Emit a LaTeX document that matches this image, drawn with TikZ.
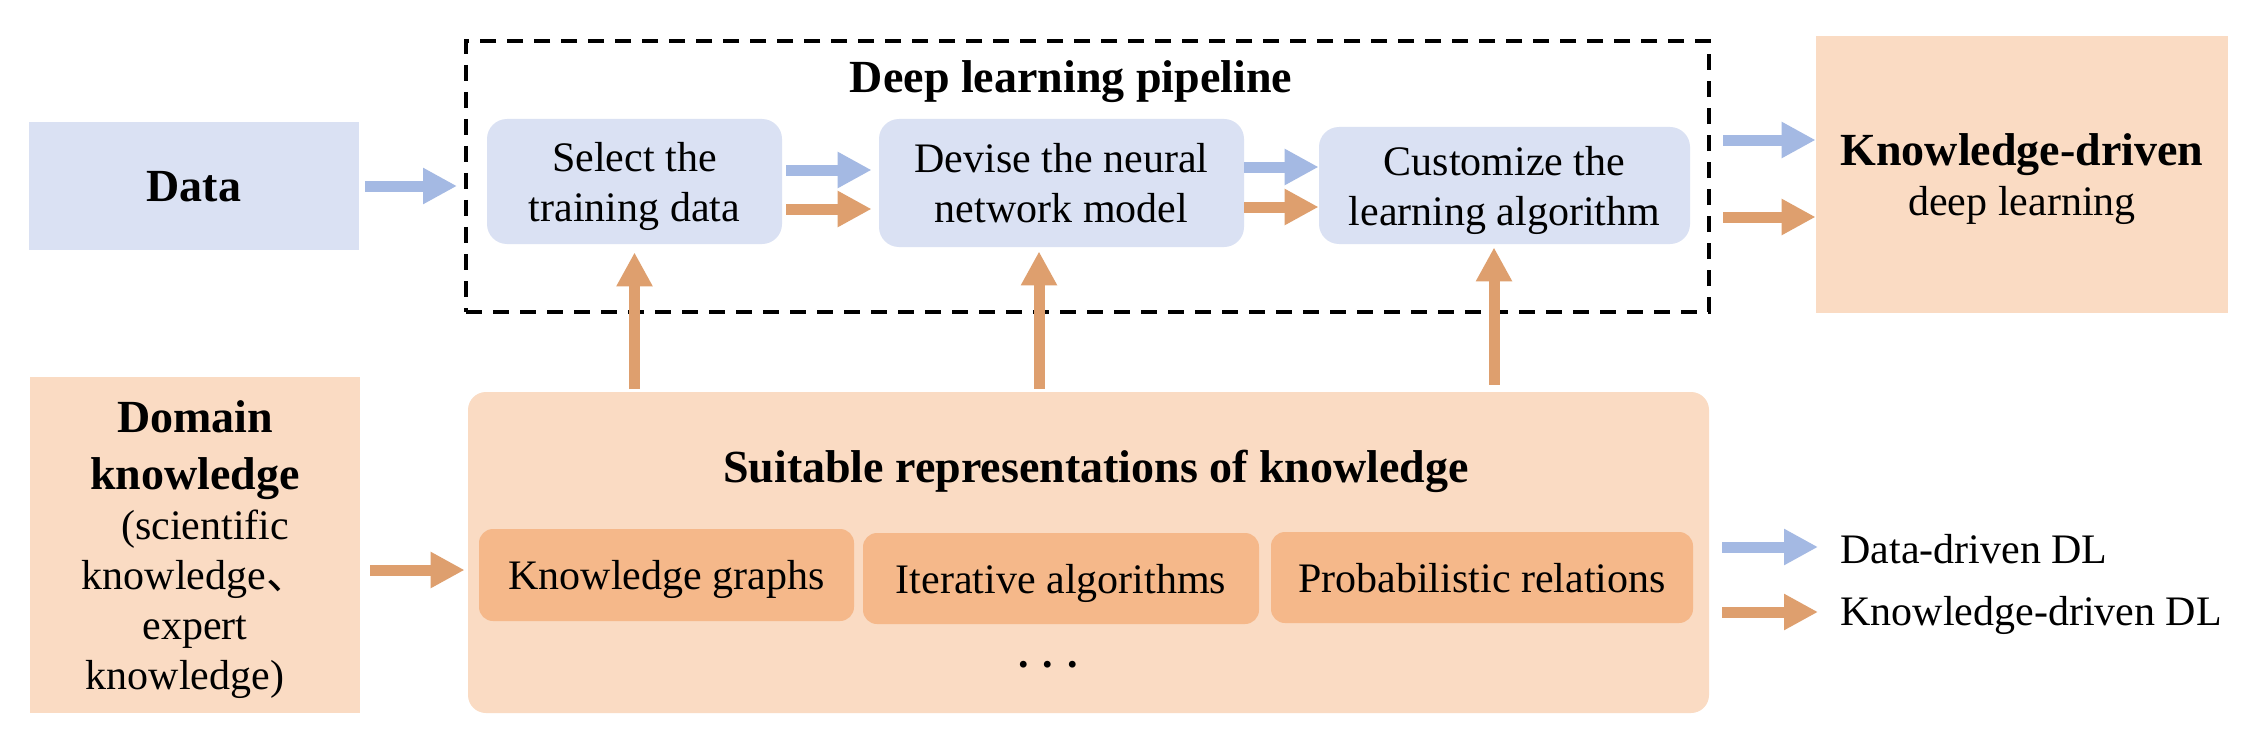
\documentclass[tikz,border=0pt]{standalone}
\usepackage{fontspec}
\setmainfont{Liberation Serif}
\newfontfamily\cjk{Noto Sans CJK SC}
\usetikzlibrary{arrows.meta,calc}
\definecolor{blueBox}{HTML}{DAE1F3}
\definecolor{blueArr}{HTML}{A4B9E3}
\definecolor{orgArr}{HTML}{DE9F6E}
\definecolor{peach}{HTML}{FADBC3}
\definecolor{innerOrg}{HTML}{F5B88A}
\tikzset{
  reg/.style={font=\fontsize{21}{25}\selectfont},
  bld/.style={font=\bfseries\fontsize{23}{25}\selectfont},
  boxbase/.style={inner sep=0pt, align=center, text depth=0pt, reg},
  bbox/.style={boxbase, fill=blueBox},
  rbbox/.style={boxbase, fill=blueBox, rounded corners=10pt},
  pbox/.style={boxbase, fill=peach},
  ibox/.style={boxbase, fill=innerOrg, rounded corners=7pt},
  barrow/.style={draw=blueArr, line width=5.5pt, -{Triangle[length=17pt,width=17pt]}},
  oarrow/.style={draw=orgArr, line width=5.5pt, -{Triangle[length=17pt,width=17pt]}},
  pipebox/.style={draw=black, line width=2pt, dash pattern=on 8pt off 5.5pt, inner sep=0pt},
}
\begin{document}
\begin{tikzpicture}[x=0.5pt,y=-0.5pt]
\useasboundingbox[fill=white] (0,0) rectangle (2263,738);

% top row
\node[bbox, minimum width=165pt, minimum height=64pt, bld] (data) at (194,186) {Data};
\node[pipebox, minimum width=621.5pt, minimum height=135.5pt] (pipe) at (1087.5,176.5) {};
\node[bld, anchor=base, inner sep=0pt] (ptitle) at (1071,93) {Deep learning pipeline};
\node[rbbox, minimum width=147.5pt, minimum height=62.5pt] (sel) at (634.5,181.5) {Select the\\training data};
\node[rbbox, minimum width=182.5pt, minimum height=64pt] (dev) at (1061.5,183) {Devise the neural\\network model};
\node[rbbox, minimum width=185.5pt, minimum height=58.5pt] (cus) at (1504.5,185.5) {Customize the\\learning algorithm};
\node[pbox, minimum width=206pt, minimum height=138.5pt] (kd) at (2022,174.5) {{\bfseries\fontsize{23}{25}\selectfont Knowledge-driven}\\deep learning};

% bottom row
\node[pbox, minimum width=165pt, minimum height=168pt] (dom) at (195,545)
  {{\bfseries\fontsize{23}{25}\selectfont Domain}\\[3.5pt]{\bfseries\fontsize{23}{25}\selectfont knowledge}\\\hspace*{10pt}(scientific\\knowledge{\cjk 、}\\expert\\knowledge)\hspace*{10pt}};
\node[pbox, rounded corners=9pt, minimum width=620.5pt, minimum height=160.5pt] (suit) at (1088.5,552.5) {};
\node[bld, anchor=base, inner sep=0pt] (stitle) at (1096,482) {Suitable representations of knowledge};
\node[ibox, minimum width=187.5pt, minimum height=46pt] (kg) at (666.5,575) {Knowledge graphs};
\node[ibox, minimum width=198pt, minimum height=45.5pt] (ia) at (1061,578.5) {Iterative algorithms};
\node[ibox, minimum width=211pt, minimum height=45.5pt] (pr) at (1482,577.5) {Probabilistic relations};
\node[reg, anchor=base, inner sep=0pt] (dots) at (1048,667) {\textbf{.\hspace{7pt}.\hspace{7pt}.}};

% legend
\coordinate (lg1) at (1722,547);
\coordinate (lg2) at (1722,612);
\node[reg, anchor=west, inner sep=0pt, text depth=0pt] (ld1) at (1840,549) {Data-driven DL};
\node[reg, anchor=west, inner sep=0pt, text depth=0pt] (ld2) at (1840,611) {Knowledge-driven DL};

% connectors
\draw[barrow, shorten <=3pt, shorten >=3.5pt] (data.east) -- (data.east -| pipe.west);
\draw[barrow, shorten <=2pt, shorten >=3.5pt] (sel.east |- 0,170) -- (dev.west |- 0,170);
\draw[oarrow, shorten <=2pt, shorten >=3.5pt] (sel.east |- 0,209) -- (dev.west |- 0,209);
\draw[barrow] (dev.east |- 0,167) -- (cus.west |- 0,167);
\draw[oarrow] (dev.east |- 0,207) -- (cus.west |- 0,207);
\draw[barrow, shorten <=6pt] (pipe.east |- 0,140) -- (kd.west |- 0,140);
\draw[oarrow, shorten <=6pt] (pipe.east |- 0,217) -- (kd.west |- 0,217);
\draw[oarrow, shorten <=5pt, shorten >=1.5pt] (dom.east |- 0,570) -- (suit.west |- 0,570);
\draw[oarrow, shorten <=1.5pt, shorten >=4pt] (sel.south |- suit.north) -- (sel.south);
\draw[oarrow, shorten <=1.5pt, shorten >=2pt] (1039,0 |- suit.north) -- (1039,0 |- dev.south);
\draw[oarrow, shorten <=3.5pt, shorten >=1.5pt] (1494,0 |- suit.north) -- (1494,0 |- cus.south);
\draw[barrow, shorten >=11pt] (lg1) -- (lg1 -| ld1.west);
\draw[oarrow, shorten >=11pt] (lg2) -- (lg2 -| ld2.west);
\end{tikzpicture}
\end{document}
